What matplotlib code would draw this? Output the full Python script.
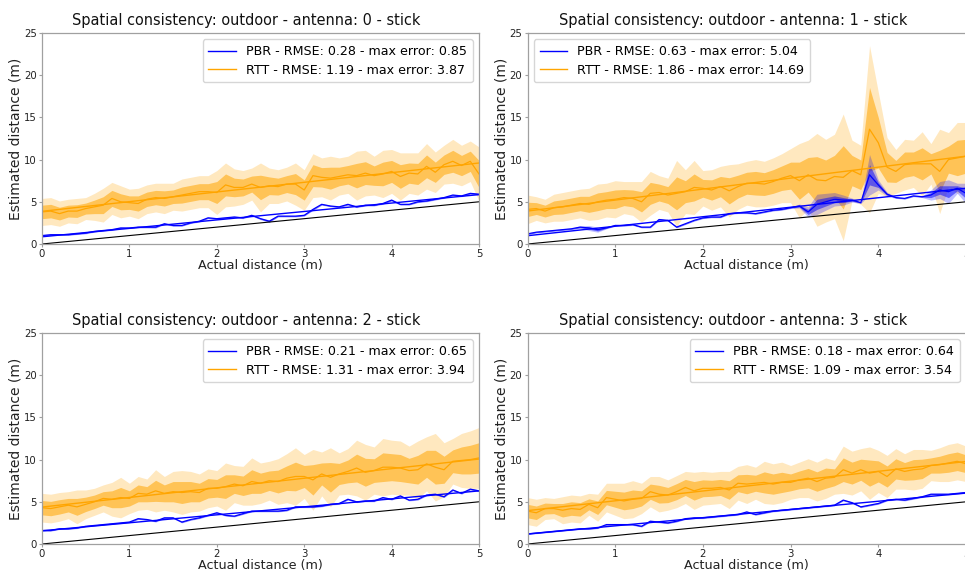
import numpy as np
import matplotlib
matplotlib.use("Agg")
import matplotlib.pyplot as plt

x = np.round(np.arange(0, 5.01, 0.1), 1)

antennas = [0, 1, 2, 3]
pbr_rmse = [0.28, 0.63, 0.21, 0.18]
pbr_maxerr = [0.85, 5.04, 0.65, 0.64]
rtt_rmse = [1.19, 1.86, 1.31, 1.09]
rtt_maxerr = [3.87, 14.69, 3.94, 3.54]

# ---- antenna 0 ----
rtt_mean_0 = [3.8, 3.9, 3.6, 3.9, 3.9, 4.2, 4.4, 4.6, 5.4, 5.0, 4.9, 4.8, 5.3, 5.5, 5.4, 5.6, 5.8, 6.0, 6.2, 6.2,
              6.1, 7.0, 6.7, 6.7, 7.1, 6.7, 6.9, 6.8, 7.1, 7.1, 6.4, 8.1, 7.9, 7.8, 8.0, 8.2, 8.1, 8.4, 8.1, 8.3,
              8.6, 8.0, 8.4, 8.3, 9.2, 8.5, 9.4, 9.8, 9.3, 9.8, 8.3]
rtt_std_0 = [0.8, 0.8, 0.75, 0.7, 0.75, 0.65, 0.8, 1.0, 0.95, 0.95, 0.8, 0.9, 0.85, 0.85, 0.9, 0.8, 0.95, 0.95, 0.95, 0.95,
             1.3, 1.3, 1.1, 1.0, 0.95, 1.45, 1.05, 1.0, 1.0, 1.25, 1.2, 1.3, 1.15, 1.3, 1.1, 1.1, 1.45, 1.35, 1.15, 1.4,
             1.3, 1.4, 1.2, 1.25, 1.35, 1.2, 1.15, 1.3, 1.2, 1.2, 1.6]
pbr_mean_0 = [1.0, 1.1, 1.1, 1.1, 1.2, 1.3, 1.5, 1.6, 1.7, 1.9, 1.9, 2.0, 2.0, 2.0, 2.4, 2.2, 2.2, 2.5, 2.7, 3.1,
              3.0, 3.1, 3.2, 3.1, 3.4, 3.0, 2.7, 3.3, 3.3, 3.3, 3.4, 4.1, 4.7, 4.5, 4.4, 4.7, 4.4, 4.6, 4.6, 4.8,
              5.2, 4.7, 4.7, 5.0, 5.1, 5.3, 5.5, 5.8, 5.7, 6.0, 5.9]
pbr_std_0 = [0.05, 0.05, 0.04, 0.04, 0.04, 0.05, 0.05, 0.04, 0.05, 0.05, 0.04, 0.05, 0.05, 0.06, 0.05, 0.05, 0.05, 0.04, 0.05, 0.05,
             0.05, 0.05, 0.05, 0.05, 0.05, 0.06, 0.08, 0.05, 0.05, 0.05, 0.05, 0.06, 0.05, 0.05, 0.05, 0.05, 0.05, 0.05, 0.05, 0.05,
             0.06, 0.05, 0.05, 0.05, 0.05, 0.05, 0.05, 0.05, 0.05, 0.05, 0.05]

# ---- antenna 1 ----
rtt_mean_1 = [4.1, 4.2, 3.9, 4.3, 4.4, 4.6, 4.8, 4.7, 5.0, 5.2, 5.3, 5.5, 5.4, 5.0, 6.0, 6.1, 5.8, 6.0, 6.2, 6.7,
              6.6, 6.4, 6.8, 6.3, 6.8, 7.2, 7.2, 7.1, 7.4, 7.8, 8.1, 7.5, 8.2, 7.6, 7.5, 8.0, 7.9, 8.7, 8.2, 13.6,
              12.0, 9.1, 8.6, 9.4, 9.5, 9.5, 9.5, 8.6, 10.0, 10.2, 10.4]
rtt_std_1 = [0.85, 0.7, 0.7, 0.8, 0.85, 0.85, 0.85, 0.95, 1.05, 1.0, 1.1, 0.95, 1.0, 1.2, 1.3, 1.0, 1.0, 1.95, 1.3, 1.6,
             1.05, 1.2, 1.2, 1.55, 1.35, 1.3, 1.4, 1.35, 1.4, 1.45, 1.6, 2.2, 2.05, 2.75, 2.45, 2.5, 3.75, 1.8, 1.75, 4.95,
             3.0, 1.75, 1.3, 1.5, 1.4, 1.9, 1.2, 2.5, 1.6, 2.1, 2.0]
pbr_mean_1 = [1.2, 1.4, 1.5, 1.6, 1.7, 1.8, 2.0, 1.9, 1.7, 1.9, 2.2, 2.2, 2.3, 2.0, 2.0, 2.9, 2.8, 2.0, 2.4, 2.8,
              3.1, 3.2, 3.2, 3.6, 3.7, 3.7, 3.6, 3.8, 4.0, 4.1, 4.3, 4.5, 3.8, 4.7, 5.0, 5.3, 5.2, 5.2, 4.9, 8.2,
              7.0, 5.9, 5.5, 5.4, 5.7, 5.6, 5.8, 6.4, 6.2, 6.6, 6.0]
pbr_std_1 = [0.05, 0.05, 0.05, 0.05, 0.05, 0.05, 0.08, 0.15, 0.15, 0.05, 0.05, 0.05, 0.05, 0.05, 0.05, 0.05, 0.05, 0.05, 0.05, 0.05,
             0.05, 0.05, 0.05, 0.05, 0.05, 0.05, 0.05, 0.05, 0.05, 0.05, 0.05, 0.12, 0.3, 0.6, 0.5, 0.4, 0.3, 0.12, 0.05, 1.2,
             0.3, 0.12, 0.05, 0.05, 0.05, 0.05, 0.3, 0.5, 0.7, 0.3, 0.6]

# ---- antenna 2 ----
rtt_mean_2 = [4.3, 4.2, 4.4, 4.6, 4.4, 4.7, 5.0, 5.4, 5.3, 5.5, 5.4, 6.0, 5.9, 6.3, 6.0, 6.2, 6.1, 6.2, 6.1, 6.6,
              6.6, 6.8, 7.1, 6.9, 7.4, 7.2, 7.5, 7.4, 7.8, 8.0, 8.0, 7.6, 8.3, 7.9, 8.3, 8.6, 9.0, 8.5, 8.7, 9.1,
              9.1, 9.0, 8.7, 8.8, 9.5, 9.1, 8.8, 9.8, 9.9, 10.0, 10.2]
rtt_std_2 = [0.85, 0.85, 0.85, 0.8, 1.0, 0.85, 0.8, 0.8, 1.0, 1.2, 0.9, 1.0, 0.9, 1.25, 1.0, 1.2, 1.3, 1.2, 1.1, 1.15,
             1.05, 1.4, 1.1, 1.15, 1.4, 1.2, 1.15, 1.35, 1.45, 1.7, 1.3, 1.8, 1.3, 1.75, 1.25, 1.35, 1.65, 1.65, 1.4, 1.7,
             1.6, 1.6, 1.45, 1.7, 1.6, 2.0, 1.6, 1.35, 1.6, 1.7, 1.8]
pbr_mean_2 = [1.6, 1.6, 1.8, 1.8, 1.9, 2.1, 2.2, 2.3, 2.4, 2.5, 2.6, 3.0, 2.9, 2.7, 3.1, 3.1, 2.6, 2.9, 3.1, 3.4,
              3.7, 3.4, 3.3, 3.6, 3.9, 3.9, 3.9, 3.9, 4.0, 4.4, 4.4, 4.4, 4.5, 4.7, 4.8, 5.3, 5.0, 5.1, 5.1, 5.5,
              5.3, 5.7, 5.2, 5.3, 5.8, 5.9, 5.6, 6.4, 6.0, 6.5, 6.3]
pbr_std_2 = [0.04, 0.04, 0.04, 0.04, 0.04, 0.04, 0.04, 0.04, 0.04, 0.04, 0.05, 0.05, 0.05, 0.05, 0.05, 0.05, 0.05, 0.05, 0.05, 0.05,
             0.05, 0.05, 0.05, 0.05, 0.05, 0.05, 0.05, 0.05, 0.05, 0.05, 0.05, 0.05, 0.05, 0.05, 0.05, 0.05, 0.05, 0.05, 0.05, 0.05,
             0.05, 0.05, 0.05, 0.05, 0.05, 0.05, 0.05, 0.05, 0.05, 0.05, 0.05]

# ---- antenna 3 ----
rtt_mean_3 = [3.9, 3.7, 4.2, 4.2, 4.0, 4.2, 4.1, 4.7, 4.3, 5.5, 5.3, 5.1, 5.3, 5.4, 6.2, 5.9, 5.8, 6.2, 6.7, 6.3,
              6.6, 6.6, 6.7, 6.4, 7.2, 7.1, 7.2, 7.3, 7.1, 7.3, 7.3, 7.6, 7.8, 7.4, 7.8, 7.9, 8.8, 8.4, 8.8, 8.4,
              8.6, 8.0, 8.9, 8.6, 8.8, 8.9, 9.3, 9.4, 9.6, 9.8, 9.5]
rtt_std_3 = [0.8, 0.8, 0.65, 0.6, 0.8, 0.8, 0.8, 0.65, 0.8, 0.85, 0.95, 1.05, 1.1, 0.9, 0.9, 1.05, 0.9, 0.95, 0.95, 1.1,
             1.0, 0.95, 0.95, 1.1, 1.0, 1.15, 0.95, 1.25, 1.2, 1.2, 1.0, 1.05, 1.15, 1.15, 1.2, 1.0, 1.4, 1.3, 1.25, 1.55,
             1.25, 1.25, 1.2, 1.05, 1.2, 1.15, 0.9, 1.0, 1.1, 1.1, 1.05]
pbr_mean_3 = [1.2, 1.3, 1.4, 1.5, 1.6, 1.7, 1.8, 1.8, 1.9, 2.3, 2.3, 2.3, 2.3, 2.1, 2.7, 2.6, 2.5, 2.7, 3.0, 3.1,
              3.1, 3.2, 3.3, 3.4, 3.5, 3.8, 3.5, 3.7, 3.9, 4.0, 4.1, 4.2, 4.3, 4.4, 4.5, 4.6, 5.2, 4.9, 4.4, 4.6,
              4.8, 5.2, 5.3, 5.2, 5.4, 5.6, 5.9, 5.9, 5.9, 6.0, 6.1]
pbr_std_3 = [0.04, 0.04, 0.04, 0.04, 0.04, 0.04, 0.04, 0.04, 0.04, 0.04, 0.05, 0.05, 0.05, 0.05, 0.05, 0.05, 0.05, 0.05, 0.05, 0.05,
             0.05, 0.05, 0.05, 0.05, 0.05, 0.05, 0.05, 0.05, 0.05, 0.05, 0.05, 0.05, 0.05, 0.05, 0.05, 0.05, 0.05, 0.05, 0.05, 0.05,
             0.05, 0.05, 0.05, 0.05, 0.05, 0.05, 0.05, 0.05, 0.05, 0.05, 0.05]

rtt_means = [rtt_mean_0, rtt_mean_1, rtt_mean_2, rtt_mean_3]
rtt_stds = [rtt_std_0, rtt_std_1, rtt_std_2, rtt_std_3]
pbr_means = [pbr_mean_0, pbr_mean_1, pbr_mean_2, pbr_mean_3]
pbr_stds = [pbr_std_0, pbr_std_1, pbr_std_2, pbr_std_3]
legend_locs = ["upper right", "upper left", "upper right", "upper right"]

W, H = 965, 573
fig = plt.figure(figsize=(W / 100, H / 100), dpi=100)

# axes boxes in pixels: (left, top, width, height)
boxes = [(42, 33, 437, 211), (527.5, 33, 438.5, 211),
         (42, 333, 437, 211), (527.5, 333, 438.5, 211)]

GRAY = "#a0a0a0"
for i, ant in enumerate(antennas):
    l, t, w, h = boxes[i]
    ax = fig.add_axes([l / W, 1 - (t + h) / H, w / W, h / H])
    rm = np.array(rtt_means[i]); rs = np.array(rtt_stds[i])
    pm = np.array(pbr_means[i]); ps = np.array(pbr_stds[i])

    # RTT bands
    ax.fill_between(x, rm - 2 * rs, rm + 2 * rs, color="orange", alpha=0.25, lw=0)
    ax.fill_between(x, rm - rs, rm + rs, color="orange", alpha=0.55, lw=0)
    # PBR bands
    ax.fill_between(x, pm - 2 * ps, pm + 2 * ps, color="blue", alpha=0.25, lw=0)
    ax.fill_between(x, pm - ps, pm + ps, color="blue", alpha=0.5, lw=0)

    # linear fits
    pf = np.polyfit(x, pm, 1)
    rf = np.polyfit(x, rm, 1)
    ax.plot(x, np.polyval(pf, x), color="blue", lw=1.0,
            label=f"PBR - RMSE: {pbr_rmse[i]:.2f} - max error: {pbr_maxerr[i]:.2f}")
    ax.plot(x, np.polyval(rf, x), color="orange", lw=1.0,
            label=f"RTT - RMSE: {rtt_rmse[i]:.2f} - max error: {rtt_maxerr[i]:.2f}")
    # means
    ax.plot(x, pm, color="blue", lw=0.9)
    ax.plot(x, rm, color="orange", lw=0.9)
    # ground truth
    ax.plot(x, x, color="black", lw=0.8)

    ax.set_xlim(0, 5)
    ax.set_ylim(0, 25)
    ax.set_xticks([0, 1, 2, 3, 4, 5])
    ax.set_yticks([0, 5, 10, 15, 20, 25])
    for s in ax.spines.values():
        s.set_color(GRAY)
        s.set_linewidth(0.9)
    ax.tick_params(colors=GRAY, labelcolor="#222222", labelsize=7.3, length=2.5, width=0.8, pad=1.2)
    ax.set_xlabel("Actual distance (m)", fontsize=9.2, labelpad=0, color="#222222")
    ax.set_ylabel("Estimated distance (m)", fontsize=10, labelpad=1, color="#222222")
    ax.set_title(f"Spatial consistency: outdoor - antenna: {ant} - stick", fontsize=10.45, pad=6,
                 color="#111111", x=0.468)
    ax.legend(loc=legend_locs[i], fontsize=9.1, handlelength=2.2, borderpad=0.45, labelspacing=0.45)

fig.savefig("out.png", dpi=100)
